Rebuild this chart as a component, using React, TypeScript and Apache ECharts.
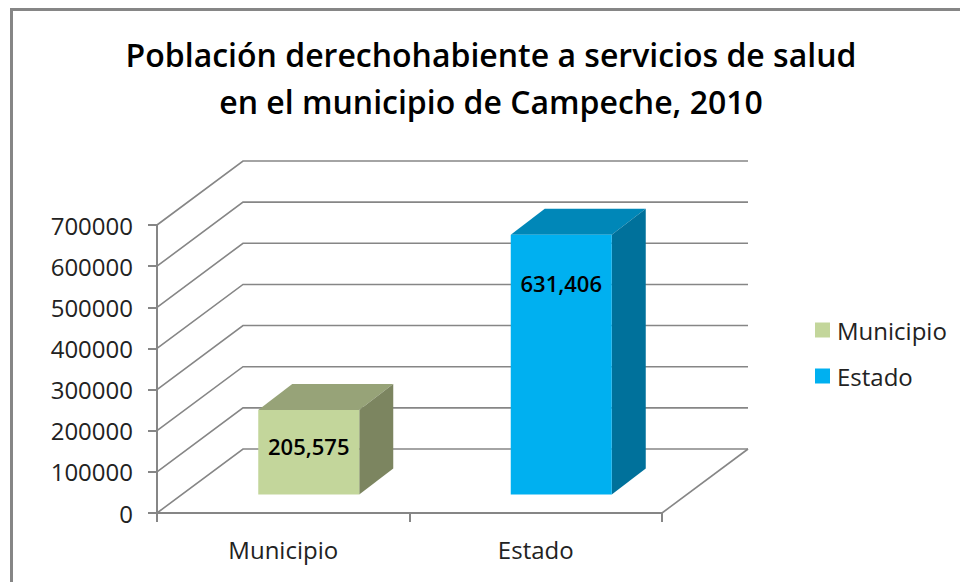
import React, { useEffect, useRef } from "react";
import * as echarts from "echarts";

const categories = ["Municipio", "Estado"];
const municipioValues = [205575, null];
const estadoValues = [null, 631406];
const yTicks = [0, 100000, 200000, 300000, 400000, 500000, 600000, 700000];
const titleLines = ["Población derechohabiente a servicios de salud", "en el municipio de Campeche, 2010"];

const WALL_DX = 86;
const WALL_DY = -64;
const BAR_OFF_DX = 25.5;
const BAR_OFF_DY = -18.5;
const BAR_DX = 34;
const BAR_DY = -26;
const BAR_WIDTH = 101;
const GRID_COLOR = "#868686";

function wallRender(params: any, api: any) {
  const cs = params.coordSys;
  const v = api.value(0);
  const y = api.coord([0, v])[1];
  const left = cs.x;
  const right = cs.x + cs.width;
  const lineStyle = { stroke: GRID_COLOR, lineWidth: 1.6, fill: "none" };
  const children: any[] = [
    {
      type: "polyline",
      shape: { points: [[left, y], [left + WALL_DX, y + WALL_DY], [right + WALL_DX, y + WALL_DY]] },
      style: lineStyle,
      silent: true,
    },
  ];
  if (v === 0) {
    children.push({
      type: "line",
      shape: { x1: right, y1: y, x2: right + WALL_DX, y2: y + WALL_DY },
      style: lineStyle,
      silent: true,
    });
  }
  return { type: "group", children };
}

function barRender(face: string, top: string, side: string, labelOffset: number) {
  return (params: any, api: any) => {
    const value = api.value(1);
    if (value == null || Number.isNaN(value)) return null;
    const cat = api.value(0);
    const base = api.coord([cat, 0]);
    const tip = api.coord([cat, value]);
    const x0 = base[0] + BAR_OFF_DX - BAR_WIDTH / 2;
    const x1 = x0 + BAR_WIDTH;
    const yb = base[1] + BAR_OFF_DY;
    const yt = tip[1] + BAR_OFF_DY;
    const poly = (points: number[][], fill: string) => ({
      type: "polygon",
      shape: { points },
      style: { fill, stroke: "none" },
    });
    return {
      type: "group",
      children: [
        poly([[x0, yt], [x1, yt], [x1 + BAR_DX, yt + BAR_DY], [x0 + BAR_DX, yt + BAR_DY]], top),
        poly([[x1, yb], [x1 + BAR_DX, yb + BAR_DY], [x1 + BAR_DX, yt + BAR_DY], [x1, yt]], side),
        { type: "rect", shape: { x: x0, y: yt, width: BAR_WIDTH, height: yb - yt }, style: { fill: face, stroke: "none" } },
        {
          type: "text",
          x: (x0 + x1) / 2,
          y: yt + labelOffset,
          style: {
            text: value.toLocaleString("en-US"),
            fill: "#000",
            font: "600 22px 'Open Sans', sans-serif",
            align: "center",
            verticalAlign: "middle",
          },
        },
      ],
    };
  };
}

export default function App() {
  const ref = useRef<HTMLDivElement>(null);
  useEffect(() => {
    document.body.style.margin = "0";
    const chart = echarts.init(ref.current!, undefined, { renderer: "svg" });
    chart.setOption({
      animation: false,
      backgroundColor: "#fff",
      textStyle: { fontFamily: "'Open Sans', sans-serif" },
      title: {
        text: titleLines.join("\n"),
        left: 486,
        top: 26,
        textAlign: "center",
        textStyle: { fontFamily: "'Open Sans', sans-serif", fontSize: 32, fontWeight: 600, color: "#000", lineHeight: 47 },
      },
      grid: { left: 157, top: 225, width: 505, height: 288 },
      legend: {
        left: 810,
        top: 313,
        orient: "vertical",
        icon: "rect",
        itemWidth: 15,
        itemHeight: 15,
        itemGap: 22,
        data: categories,
        textStyle: { fontSize: 24, color: "#222", padding: [0, 0, 0, 2] },
        selectedMode: false,
      },
      xAxis: {
        type: "category",
        data: categories,
        axisLine: { lineStyle: { color: GRID_COLOR, width: 2 } },
        axisTick: { show: true, length: 9, lineStyle: { color: GRID_COLOR, width: 2 } },
        axisLabel: { fontSize: 24, color: "#222", margin: 24 },
        splitLine: { show: false },
      },
      yAxis: {
        type: "value",
        min: 0,
        max: 700000,
        interval: 100000,
        axisLine: { show: true, lineStyle: { color: GRID_COLOR, width: 2 } },
        axisTick: { show: true, length: 9, lineStyle: { color: GRID_COLOR, width: 2 } },
        axisLabel: { fontSize: 24, color: "#222", margin: 24, formatter: (v: number) => String(v) },
        splitLine: { show: false },
      },
      series: [
        {
          type: "custom",
          name: "walls",
          z: 1,
          silent: true,
          clip: false,
          encode: { y: 0 },
          data: yTicks.map((t) => [t]),
          renderItem: wallRender,
        },
        {
          type: "custom",
          name: categories[0],
          z: 2,
          clip: false,
          itemStyle: { color: "#c3d69b" },
          encode: { x: 0, y: 1 },
          data: municipioValues.map((v, i) => [i, v]),
          renderItem: barRender("#c3d69b", "#97a378", "#7c8560", 36),
        },
        {
          type: "custom",
          name: categories[1],
          z: 2,
          clip: false,
          itemStyle: { color: "#00b0f0" },
          encode: { x: 0, y: 1 },
          data: estadoValues.map((v, i) => [i, v]),
          renderItem: barRender("#00b0f0", "#0087b8", "#00719b", 48),
        },
      ],
      graphic: [
        {
          type: "polyline",
          silent: true,
          z: 100,
          shape: { points: [[11.5, 582], [11.5, 9.5], [960, 9.5]] },
          style: { stroke: GRID_COLOR, lineWidth: 3, fill: "none" },
        },
      ],
    });
    return () => chart.dispose();
  }, []);
  return <div ref={ref} style={{ width: 960, height: 582 }} />;
}
